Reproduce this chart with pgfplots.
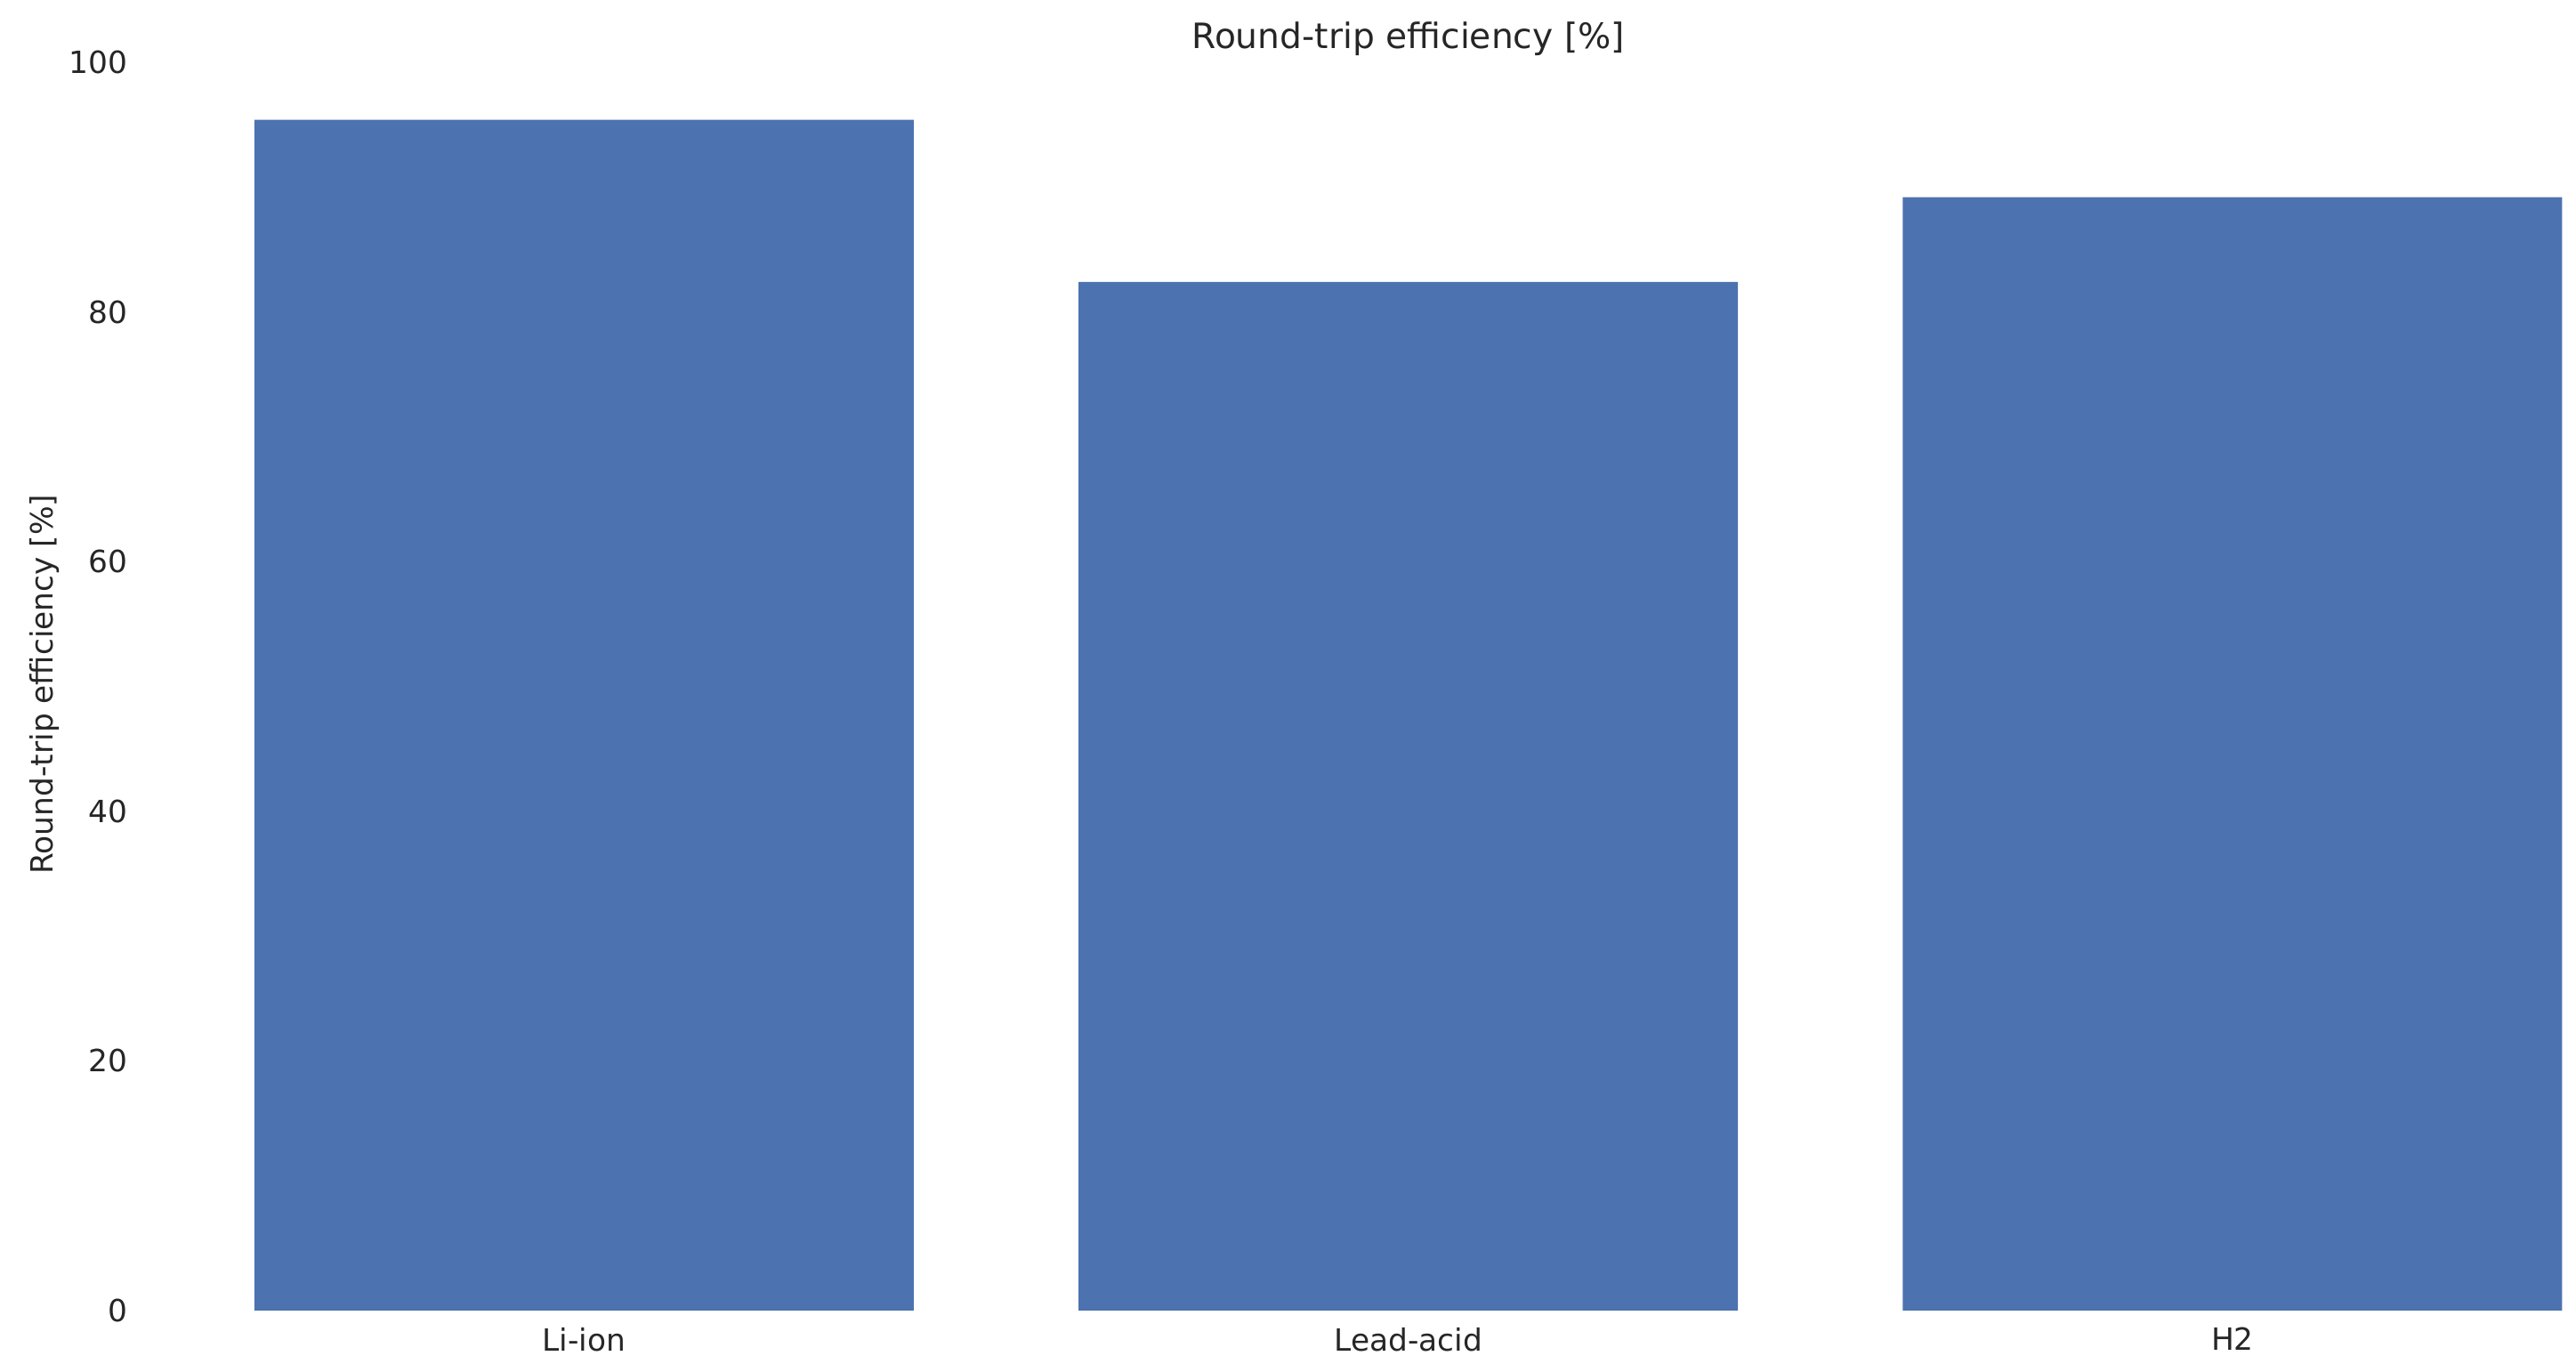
\documentclass[border=0pt]{standalone}
\usepackage{fontspec}
\setmainfont{DejaVu Sans}
\usepackage{pgfplots}
\pgfplotsset{compat=1.18}
\definecolor{barblue}{HTML}{4C72B0}
\definecolor{txt}{HTML}{262626}
\begin{document}
\begin{tikzpicture}
\begin{axis}[name=ax, at={(0,0)}, anchor=south west,
  scale only axis, width=684.7pt, height=350.75pt,
  xmin=-0.54, xmax=2.417, ymin=0, ymax=100,
  axis line style={draw=none},
  tick style={draw=none}, major tick length=0pt,
  ytick={0,20,40,60,80,100},
  xtick={0,1,2}, xticklabels={Li-ion,Lead-acid,H2},
  ticklabel style={font=\fontsize{8.6}{10}\selectfont, text=txt},
  /pgf/number format/assume math mode=true,
  yticklabel style={inner sep=0pt, anchor=east, xshift=-3pt},
  xticklabel style={inner sep=0pt, anchor=north, yshift=-4.6pt},
  clip=false,
]
\addplot[ybar, bar width=0.8, fill=barblue, draw=none] coordinates {(0,95.4) (1,82.4) (2,89.2)};
\node[anchor=base, inner sep=0pt, text=txt, font=\fontsize{9.8}{11}\selectfont] at ([yshift=3.75pt]axis cs:1,100) {Round-trip efficiency [\%]};
\end{axis}
\node[rotate=90, anchor=center, inner sep=0pt, text=txt, font=\fontsize{8.6}{10}\selectfont] at ([xshift=-26.5pt,yshift=0.6pt]ax.west) {Round-trip efficiency [\%]};
\pgfresetboundingbox
\path ([shift={(-39.075pt,-17.25pt)}]ax.south west) rectangle ++(723.75pt,385.5pt);
\end{tikzpicture}
\end{document}
